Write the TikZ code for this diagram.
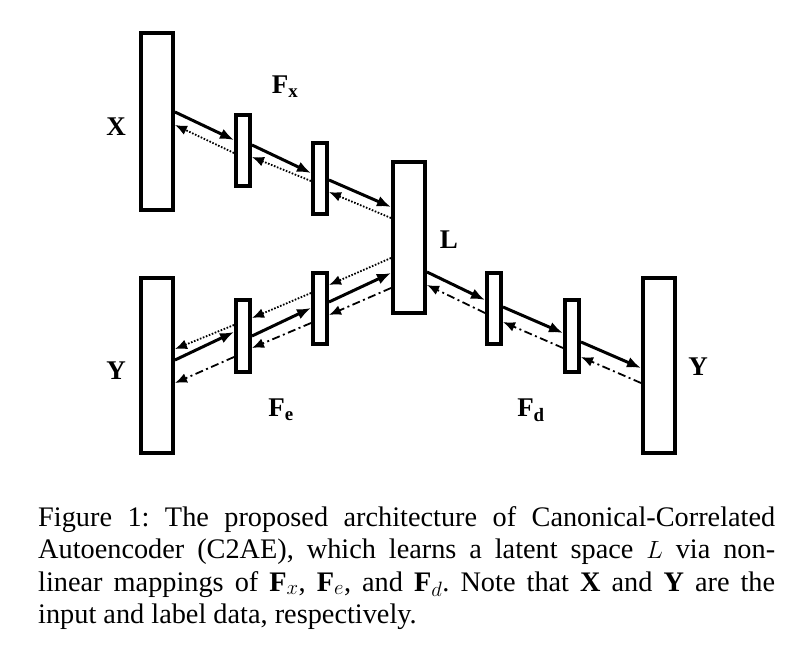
\documentclass[tikz,border=0pt]{standalone}
\usepackage{fontspec}
\setmainfont{Liberation Serif}
\usetikzlibrary{arrows.meta}
\begin{document}
\begin{tikzpicture}[x=1pt,y=-1pt,
  blk/.style={draw,line width=4pt,fill=white,inner sep=0},
  fw/.style={line width=3pt,-{Latex[length=14pt,width=11pt]}},
  dt/.style={line width=1.8pt,dash pattern=on 1.6pt off 1.6pt,-{Latex[length=12pt,width=10pt]}},
  dd/.style={line width=1.8pt,dash pattern=on 8pt off 3.5pt on 2pt off 3.5pt,-{Latex[length=12pt,width=10pt]}},
  lab/.style={font=\fontsize{27}{30}\selectfont\bfseries}]
\useasboundingbox (0,0) rectangle (812,661);
\node[blk,minimum width=32,minimum height=177] (X) at (157,121.5) {};
\node[blk,minimum width=14,minimum height=71] (fx1) at (243,150.5) {};
\node[blk,minimum width=14,minimum height=71] (fx2) at (320,178.5) {};
\node[blk,minimum width=32,minimum height=151] (L) at (409,237.5) {};
\node[blk,minimum width=32,minimum height=175] (Y) at (157,365.5) {};
\node[blk,minimum width=14,minimum height=72] (fe1) at (243,336) {};
\node[blk,minimum width=14,minimum height=71] (fe2) at (320,308.5) {};
\node[blk,minimum width=14,minimum height=71] (fd1) at (494,308.5) {};
\node[blk,minimum width=14,minimum height=72] (fd2) at (572,336) {};
\node[blk,minimum width=32,minimum height=175] (Y2) at (659,365.5) {};
% encoder X
\draw[fw] (X.east|-0,112) -- (fx1.west|-0,140);
\draw[fw] (fx1.east|-0,145) -- (fx2.west|-0,173);
\draw[fw] (fx2.east|-0,180) -- (L.west|-0,207);
\draw[dt] (fx1.west|-0,153) -- (X.east|-0,125);
\draw[dt] (fx2.west|-0,181) -- (fx1.east|-0,157);
\draw[dt] (L.west|-0,218) -- (fx2.east|-0,192);
% encoder Y
\draw[fw] (Y.east|-0,360) -- (fe1.west|-0,332);
\draw[fw] (fe1.east|-0,336) -- (fe2.west|-0,308);
\draw[fw] (fe2.east|-0,302) -- (L.west|-0,273);
\draw[dt] (L.west|-0,258) -- (fe2.east|-0,285);
\draw[dt] (fe2.west|-0,293) -- (fe1.east|-0,318);
\draw[dt] (fe1.west|-0,325) -- (Y.east|-0,349);
\draw[dd] (L.west|-0,288) -- (fe2.east|-0,315);
\draw[dd] (fe2.west|-0,323) -- (fe1.east|-0,348);
\draw[dd] (fe1.west|-0,357) -- (Y.east|-0,383);
% decoder
\draw[fw] (L.east|-0,272) -- (fd1.west|-0,300);
\draw[fw] (fd1.east|-0,307) -- (fd2.west|-0,333);
\draw[fw] (fd2.east|-0,342) -- (Y2.west|-0,368);
\draw[dd] (fd1.west|-0,313) -- (L.east|-0,285);
\draw[dd] (fd2.west|-0,348) -- (fd1.east|-0,322);
\draw[dd] (Y2.west|-0,383) -- (fd2.east|-0,357);
% labels
\node[lab] (lx) at (116,127) {X};
\node[lab] (lfx) at (285,87) {$\mathbf{F_x}$};
\node[lab] (ll) at (449,240) {L};
\node[lab] (ly) at (116,371) {Y};
\node[lab] (lfe) at (281,410) {$\mathbf{F_e}$};
\node[lab] (lfd) at (531,410) {$\mathbf{F_d}$};
\node[lab] (ly2) at (698,367) {Y};
\node[anchor=north west,text width=737,align=justify,inner sep=0,font=\fontsize{28.3}{32.5}\selectfont\frenchspacing] (cap) at (38,506)
{Figure 1: The proposed architecture of Canonical-Correlated\linebreak
Autoencoder (C2AE), which learns a latent space $L$ via non-\linebreak
linear mappings of $\mathbf{F}_x$, $\mathbf{F}_e$, and $\mathbf{F}_d$. Note that \textbf{X} and \textbf{Y} are the\linebreak
input and label data, respectively.\par};
\end{tikzpicture}
\end{document}
